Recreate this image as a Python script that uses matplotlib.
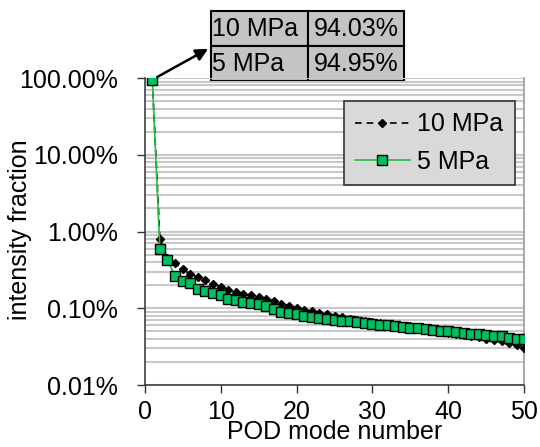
import matplotlib
matplotlib.use("Agg")
import matplotlib.pyplot as plt
import numpy as np
from matplotlib.ticker import FixedLocator, LogLocator, FuncFormatter, NullFormatter

plt.rcParams['font.family'] = ['Liberation Sans', 'DejaVu Sans']

modes = list(range(1, 51))
mpa10 = [94.03, 0.80, 0.45, 0.39, 0.32, 0.28, 0.255, 0.23, 0.21, 0.19,
         0.175, 0.165, 0.155, 0.148, 0.14, 0.132, 0.125, 0.115, 0.108, 0.102,
         0.096, 0.091, 0.087, 0.083, 0.079, 0.076, 0.073, 0.070, 0.068, 0.066,
         0.064, 0.062, 0.061, 0.059, 0.058, 0.056, 0.055, 0.052, 0.050, 0.048,
         0.046, 0.045, 0.043, 0.042, 0.040, 0.039, 0.037, 0.035, 0.033, 0.030]
mpa5 = [94.95, 0.583, 0.42, 0.263, 0.226, 0.213, 0.180, 0.166, 0.158, 0.151,
        0.132, 0.127, 0.121, 0.117, 0.112, 0.106, 0.097, 0.089, 0.086, 0.083,
        0.079, 0.076, 0.075, 0.073, 0.070, 0.069, 0.068, 0.066, 0.065, 0.063,
        0.061, 0.060, 0.059, 0.057, 0.056, 0.055, 0.054, 0.052, 0.051, 0.050,
        0.049, 0.048, 0.046, 0.046, 0.045, 0.044, 0.043, 0.041, 0.040, 0.040]
series_names = ["10 MPa", "5 MPa"]
table_rows = [["10 MPa", "94.03%"], ["5 MPa", "94.95%"]]
xticks = [0, 10, 20, 30, 40, 50]
yticks = [0.01, 0.1, 1, 10, 100]

FS = 18

fig = plt.figure(figsize=(5.4, 4.47), dpi=100)
ax = fig.add_axes([0.268, 0.1387, 0.703, 0.6868])

ax.plot(modes, mpa10, linestyle=(0, (4, 3)), color='black', lw=1.2,
        marker='D', markersize=4.5, markerfacecolor='black', markeredgecolor='black',
        label=series_names[0], zorder=3)
ax.plot(modes, mpa5, linestyle='-', color='#22bb44', lw=1.2,
        marker='s', markersize=7, markerfacecolor='#00c060', markeredgecolor='black',
        markeredgewidth=1.0, label=series_names[1], zorder=4)

ax.set_yscale('log')
ax.set_ylim(0.01, 100)
ax.set_xlim(0, 50)
ax.yaxis.set_major_locator(FixedLocator(yticks))
ax.yaxis.set_major_formatter(FuncFormatter(lambda v, p: f"{v:.2f}%"))
ax.yaxis.set_minor_locator(LogLocator(base=10, subs=np.arange(2, 10)))
ax.yaxis.set_minor_formatter(NullFormatter())
ax.set_xticks(xticks)

ax.grid(True, which='both', axis='y', color='#c8c8c8', lw=1.5)
ax.set_axisbelow(True)
ax.tick_params(axis='y', which='minor', length=0)
ax.tick_params(axis='both', which='major', direction='out', length=6, width=1,
               labelsize=FS, colors='#333333', labelcolor='black')
ax.tick_params(axis='x', which='major', pad=5)
ax.tick_params(axis='y', which='major', pad=13)

for s in ['left', 'bottom']:
    ax.spines[s].set_color('#404040')
    ax.spines[s].set_linewidth(1.2)
ax.spines['right'].set_color('#999999')
ax.spines['right'].set_linewidth(1.2)
ax.spines['top'].set_visible(False)

ax.set_ylabel('intensity fraction', fontsize=FS)
ax.yaxis.set_label_coords(-0.297, 0.505)
ax.set_xlabel('POD mode number', fontsize=FS, labelpad=-3)

leg = ax.legend(loc='upper right', bbox_to_anchor=(0.975, 0.925), fontsize=FS,
                frameon=True, fancybox=False, edgecolor='#333333',
                facecolor='#d9d9d9', framealpha=1, handlelength=2.2,
                borderpad=0.45, labelspacing=0.55, handletextpad=0.3,
                borderaxespad=0)
leg.get_frame().set_linewidth(1.2)

tbl = ax.table(cellText=table_rows, cellLoc='left',
               cellColours=[['#c4c4c4', '#c4c4c4'], ['#c4c4c4', '#c4c4c4']],
               bbox=[0.175, 0.990, 0.508, 0.228])
tbl.auto_set_font_size(False)
tbl.set_fontsize(FS)
for (r, c), cell in tbl.get_celld().items():
    cell.set_edgecolor('black')
    cell.set_linewidth(1.5)
    cell.PAD = 0.01 if c == 0 else 0.07
    cell.set_clip_on(False)
tbl.set_clip_on(False)

ax.annotate('', xy=(0.167, 1.095), xycoords='axes fraction',
            xytext=(modes[0], mpa5[0]), textcoords='data',
            arrowprops=dict(arrowstyle='-|>', color='black', lw=1.8,
                            mutation_scale=18, shrinkA=4, shrinkB=0),
            annotation_clip=False)

fig.savefig('out.png', dpi=100)
